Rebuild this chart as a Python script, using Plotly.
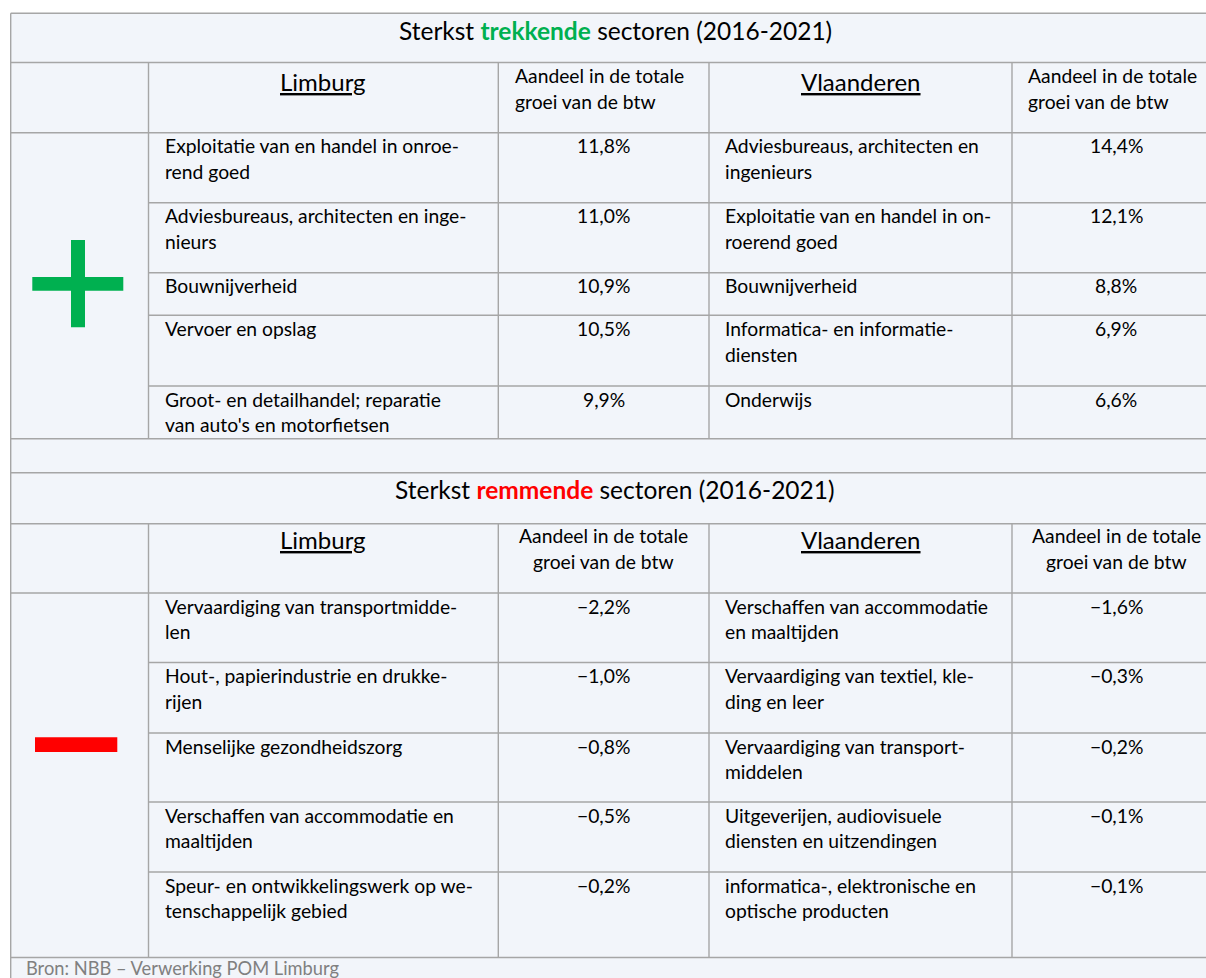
import plotly.graph_objects as go

# ------------------------------------------------------------------ data
title_prefix = "Sterkst "
title_suffix = " sectoren (2016-2021)"
title_word_plus = "trekkende"
title_word_minus = "remmende"
region_left = "Limburg"
region_right = "Vlaanderen"
value_header_lines = ["Aandeel in de totale", "groei van de btw"]

limburg_plus_sectors = [
    "Exploitatie van en handel in onroe-<br>rend goed",
    "Adviesbureaus, architecten en inge-<br>nieurs",
    "Bouwnijverheid",
    "Vervoer en opslag",
    "Groot- en detailhandel; reparatie<br>van auto's en motorfietsen",
]
limburg_plus_values = [11.8, 11.0, 10.9, 10.5, 9.9]

vlaanderen_plus_sectors = [
    "Adviesbureaus, architecten en<br>ingenieurs",
    "Exploitatie van en handel in on-<br>roerend goed",
    "Bouwnijverheid",
    "Informatica- en informatie-<br>diensten",
    "Onderwijs",
]
vlaanderen_plus_values = [14.4, 12.1, 8.8, 6.9, 6.6]

limburg_minus_sectors = [
    "Vervaardiging van transportmidde-<br>len",
    "Hout-, papierindustrie en drukke-<br>rijen",
    "Menselijke gezondheidszorg",
    "Verschaffen van accommodatie en<br>maaltijden",
    "Speur- en ontwikkelingswerk op we-<br>tenschappelijk gebied",
]
limburg_minus_values = [-2.2, -1.0, -0.8, -0.5, -0.2]

vlaanderen_minus_sectors = [
    "Verschaffen van accommodatie<br>en maaltijden",
    "Vervaardiging van textiel, kle-<br>ding en leer",
    "Vervaardiging van transport-<br>middelen",
    "Uitgeverijen, audiovisuele<br>diensten en uitzendingen",
    "informatica-, elektronische en<br>optische producten",
]
vlaanderen_minus_values = [-1.6, -0.3, -0.2, -0.1, -0.1]

source_note = "Bron: NBB – Verwerking POM Limburg"

# ------------------------------------------------------------------ style / geometry
W, H = 1206, 978
FONT = "Lato"
BG = "#F2F5FA"
LINE = "#A6A6A6"
GREEN = "#00B050"
RED = "#FF0000"
NOTE = "#808080"

SZ_TITLE = 24.5
SZ_REGION = 24
SZ_BODY = 19.3
SZ_NOTE = 18.3
LINE_GAP = 25.7

X_LEFT, X_RIGHT = 10.7, 1220
COLS = [X_LEFT, 148.5, 498.3, 709.0, 1012.0, X_RIGHT]
Y_TOP = 13.3
Y_END = 1000

sections = [
    dict(title=(13.3, 62.5), header=(62.5, 132.7),
         rows=[132.7, 202.7, 272.7, 315.3, 386.0, 438.7],
         word=title_word_plus, color=GREEN,
         left=(limburg_plus_sectors, limburg_plus_values),
         right=(vlaanderen_plus_sectors, vlaanderen_plus_values),
         head_align="left", region_off=29.0, head_off=21.8, sign="plus"),
    dict(title=(472.7, 523.7), header=(523.7, 593.0),
         rows=[593.0, 662.5, 733.0, 802.0, 872.0, 957.5],
         word=title_word_minus, color=RED,
         left=(limburg_minus_sectors, limburg_minus_values),
         right=(vlaanderen_minus_sectors, vlaanderen_minus_values),
         head_align="center", region_off=26.0, head_off=20.0, sign="minus"),
]
full_hlines = [13.3, 62.5, 132.7, 438.7, 472.7, 523.7, 593.0, 957.5]


def fmt(v):
    s = f"{abs(v):.1f}".replace(".", ",") + "%"
    return ("\u2212" + s) if v < 0 else s


shapes = []
annotations = []

# background of the table
shapes.append(dict(type="rect", xref="x", yref="y", x0=X_LEFT, x1=X_RIGHT + 20,
                   y0=Y_TOP, y1=Y_END, fillcolor=BG, line=dict(width=0), layer="below"))


def hline(y, x0=X_LEFT, x1=X_RIGHT + 20):
    shapes.append(dict(type="line", xref="x", yref="y", x0=x0, x1=x1, y0=y, y1=y,
                       line=dict(color=LINE, width=1.4)))


def vline(x, y0, y1):
    shapes.append(dict(type="line", xref="x", yref="y", x0=x, x1=x, y0=y0, y1=y1,
                       line=dict(color=LINE, width=1.4)))


def text(x, baseline, s, size, align="left", color="black"):
    # place text so that its baseline sits at `baseline`
    annotations.append(dict(x=x, y=baseline + 0.213 * size, xref="x", yref="y",
                            text=s, showarrow=False, xanchor=align, yanchor="bottom",
                            borderpad=0, font=dict(family=FONT, size=size, color=color)))


def cell_lines(x, top, off, lines, size, align="left"):
    for i, ln in enumerate(lines):
        text(x, top + off + i * LINE_GAP, ln, size, align)


PAD = 15.3

for hy in full_hlines:
    hline(hy)
vline(X_LEFT, Y_TOP, Y_END)

for sec in sections:
    t0, t1 = sec["title"]
    h0, h1 = sec["header"]
    rows = sec["rows"]
    # title
    title = (title_prefix + f"<b><span style='color:{sec['color']}'>{sec['word']}</span></b>"
             + title_suffix)
    text((X_LEFT + X_RIGHT) / 2, t0 + 27.4, title, SZ_TITLE, "center")
    # vertical column lines through header and data rows
    for cx in COLS[1:5]:
        vline(cx, h0, rows[-1])
    # data row separators (not through merged sign column)
    for ry in rows[1:-1]:
        hline(ry, x0=COLS[1])
    # header cells
    for ci, name in ((1, region_left), (3, region_right)):
        text((COLS[ci] + COLS[ci + 1]) / 2, h0 + sec["region_off"], f"<u>{name}</u>",
             SZ_REGION, "center")
    for ci in (2, 4):
        if sec["head_align"] == "left":
            cell_lines(COLS[ci] + PAD, h0, sec["head_off"], value_header_lines, SZ_BODY)
        else:
            cell_lines((COLS[ci] + COLS[ci + 1]) / 2, h0, sec["head_off"],
                       value_header_lines, SZ_BODY, "center")
    # body cells
    for (names, vals), ci in ((sec["left"], 1), (sec["right"], 3)):
        for r, (nm, v) in enumerate(zip(names, vals)):
            top = rows[r]
            cell_lines(COLS[ci] + PAD, top, 21.5, nm.split("<br>"), SZ_BODY)
            cell_lines((COLS[ci + 1] + COLS[ci + 2]) / 2, top, 21.5, [fmt(v)], SZ_BODY,
                       "center")
    # sign symbol in the merged first column
    if sec["sign"] == "plus":
        shapes.append(dict(type="rect", xref="x", yref="y", x0=32.3, x1=123.3,
                           y0=277.0, y1=290.7, fillcolor=GREEN, line=dict(width=0)))
        shapes.append(dict(type="rect", xref="x", yref="y", x0=71.0, x1=85.0,
                           y0=240.0, y1=327.3, fillcolor=GREEN, line=dict(width=0)))
    else:
        shapes.append(dict(type="rect", xref="x", yref="y", x0=35.0, x1=117.3,
                           y0=737.3, y1=752.0, fillcolor=RED, line=dict(width=0)))

# source note in the last row, kept fully inside the page
annotations.append(dict(x=25.0, y=956.0, xref="x", yref="y", text=source_note,
                        showarrow=False, xanchor="left", yanchor="top", borderpad=0,
                        font=dict(family=FONT, size=SZ_NOTE, color=NOTE)))

fig = go.Figure()
fig.update_layout(
    width=W, height=H,
    margin=dict(l=0, r=0, t=0, b=0),
    paper_bgcolor="white", plot_bgcolor="white",
    xaxis=dict(range=[0, W], visible=False, fixedrange=True),
    yaxis=dict(range=[H, 0], visible=False, fixedrange=True),
    shapes=shapes, annotations=annotations, showlegend=False,
)
fig.write_html(
    "out.html",
    config=dict(displayModeBar=False),
    post_script="document.body.style.margin='0';"
                "document.documentElement.style.overflow='hidden';",
)
